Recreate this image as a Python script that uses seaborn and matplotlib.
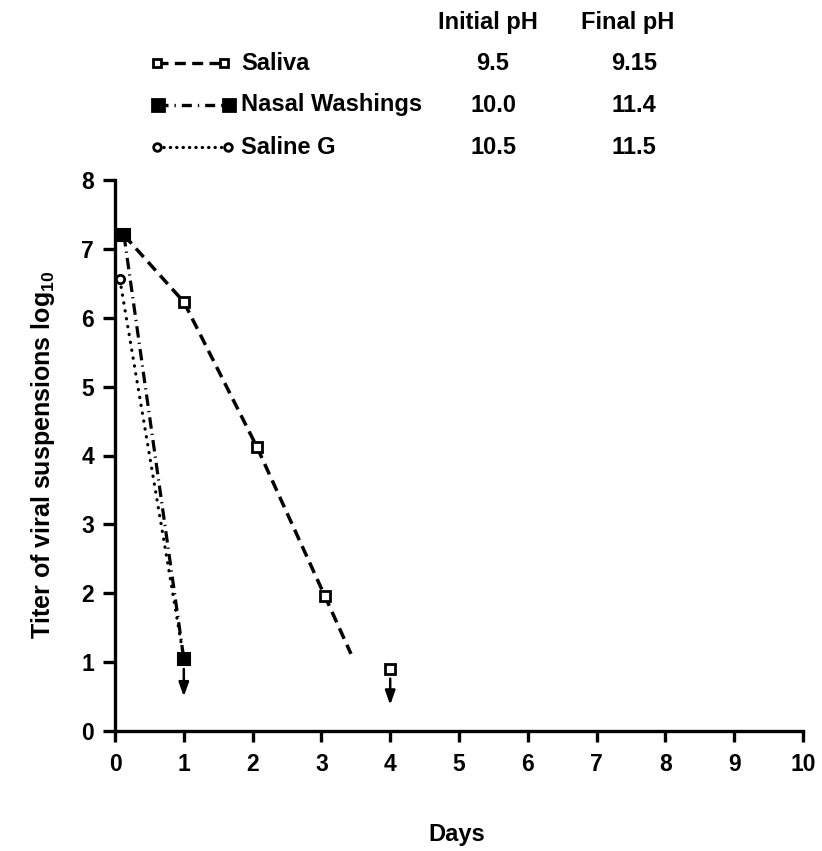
import matplotlib
matplotlib.use("Agg")
import matplotlib.pyplot as plt
import pandas as pd
import seaborn as sns

# Titer of viral suspensions (log10) against storage time in days
saliva_days = [0.13, 1.0, 2.06, 3.05, 4.0]
saliva_titer = [7.2, 6.23, 4.13, 1.96, 0.9]
saliva_curve_days = [0.13, 1.0, 2.06, 3.05, 3.43]
saliva_curve_titer = [7.2, 6.23, 4.13, 1.96, 1.12]

nasal_days = [0.13, 1.0]
nasal_titer = [7.2, 1.05]

saline_days = [0.07, 1.0]
saline_titer = [6.56, 1.05]

# values below detection limit (marker with a downward arrow)
limit_days = [1.0, 4.0]
limit_top = [0.9, 0.76]
limit_tip = [0.5, 0.38]

# key table
series_names = ["Saliva", "Nasal Washings", "Saline G"]
initial_ph = ["9.5", "10.0", "10.5"]
final_ph = ["9.15", "11.4", "11.5"]

x_ticks = list(range(0, 11))
y_ticks = list(range(0, 9))

sns.set_theme(style="white")
plt.rcParams["font.family"] = ["Liberation Sans", "DejaVu Sans"]
plt.rcParams["font.weight"] = "bold"
plt.rcParams["text.color"] = "black"
plt.rcParams["axes.labelcolor"] = "black"
plt.rcParams["xtick.color"] = "black"
plt.rcParams["ytick.color"] = "black"
plt.rcParams["mathtext.fontset"] = "custom"
plt.rcParams["mathtext.rm"] = "Liberation Sans:bold"
plt.rcParams["mathtext.bf"] = "Liberation Sans:bold"

W, H = 822, 851
fig = plt.figure(figsize=(W / 100, H / 100), dpi=100)
x0, x1 = 115, 803
y0, y1 = 731, 180
ax = fig.add_axes([x0 / W, (H - y0) / H, (x1 - x0) / W, (y0 - y1) / H])

LW = 2.5
saliva_ls = (0, (3.3, 1.9))
nasal_ls = (0, (3.6, 1.6, 0.4, 1.6))
saline_ls = (0, (0.1, 2.4))

sal_curve = pd.DataFrame({"day": saliva_curve_days, "titer": saliva_curve_titer})
sns.lineplot(data=sal_curve, x="day", y="titer", ax=ax, color="black",
             linewidth=LW, linestyle=saliva_ls, sort=False, errorbar=None,
             estimator=None)
sns.lineplot(x=nasal_days, y=nasal_titer, ax=ax, color="black", linewidth=2.3,
             linestyle=nasal_ls, sort=False, errorbar=None, estimator=None)
line = sns.lineplot(x=saline_days, y=saline_titer, ax=ax, color="black",
                    linewidth=2.3, sort=False, errorbar=None, estimator=None)
line.lines[-1].set_linestyle(saline_ls)
line.lines[-1].set_dash_capstyle("round")

# arrows marking titers below the detection limit
for d, top, tip in zip(limit_days, limit_top, limit_tip):
    ax.annotate("", xy=(d, tip), xytext=(d, top),
                arrowprops=dict(arrowstyle="-|>,head_length=0.7,head_width=0.25",
                                color="black", lw=1.8, shrinkA=0, shrinkB=0))

# markers
sns.lineplot(x=saline_days, y=saline_titer, ax=ax, linestyle="", marker="o",
             markersize=6, markerfacecolor="white", markeredgecolor="black",
             markeredgewidth=2.0, errorbar=None, estimator=None, sort=False)
sns.lineplot(x=saliva_days, y=saliva_titer, ax=ax, linestyle="", marker="s",
             markersize=7.5, markerfacecolor="white", markeredgecolor="black",
             markeredgewidth=2.0, errorbar=None, estimator=None, sort=False)
sns.lineplot(x=nasal_days, y=nasal_titer, ax=ax, linestyle="", marker="s",
             markersize=9, markerfacecolor="black", markeredgecolor="black",
             markeredgewidth=1.5, errorbar=None, estimator=None, sort=False)

ax.set_xlim(0, 10)
ax.set_ylim(0, 8)
ax.set_xticks(x_ticks)
ax.set_yticks(y_ticks)
ax.set_xticklabels([str(t) for t in x_ticks], fontsize=16.5, fontweight="bold")
ax.set_yticklabels([str(t) for t in y_ticks], fontsize=16.5, fontweight="bold")
ax.tick_params(axis="both", direction="out", width=2.4, colors="black",
               bottom=True, left=True)
ax.tick_params(axis="y", length=9, pad=6)
ax.tick_params(axis="x", length=8, pad=8)
for side in ["top", "right"]:
    ax.spines[side].set_visible(False)
for side in ["left", "bottom"]:
    ax.spines[side].set_linewidth(2.4)
    ax.spines[side].set_color("black")
ax.spines["left"].set_bounds(0, 8)
ax.spines["bottom"].set_bounds(0, 10)
ax.set_xlabel("")
ax.set_ylabel("")
for ln in ax.lines:
    ln.set_clip_on(False)

fig.text(457 / W, 1 - 835 / H, "Days", ha="center", va="center",
         fontsize=17, fontweight="bold")
fig.text(43 / W, 1 - 455 / H, r"Titer of viral suspensions log$_{10}$",
         ha="center", va="center", rotation=90, fontsize=18, fontweight="bold")

# key in pixel coordinates
key = fig.add_axes([0, 0, 1, 1], zorder=5)
key.set_xlim(0, W)
key.set_ylim(H, 0)
key.axis("off")
key.patch.set_alpha(0)

row_y = [63, 105, 147]
key.text(488, 22, "Initial pH", ha="center", va="center", fontsize=17, fontweight="bold")
key.text(628, 22, "Final pH", ha="center", va="center", fontsize=17, fontweight="bold")
sample_x = [[157, 224], [158, 229], [157, 228]]
sample_styles = [
    dict(ls=saliva_ls, marker="s", mfc="white", ms=6, lw=2.4),
    dict(ls=(0, (3.0, 1.8, 0.4, 1.8)), marker="s", mfc="black", ms=8.5, lw=2.4),
    dict(ls=(0, (0.1, 1.9)), marker="o", mfc="white", ms=5.5, lw=2.3),
]
for i, name in enumerate(series_names):
    st = sample_styles[i]
    ln, = key.plot(sample_x[i], [row_y[i], row_y[i]], color="black", lw=st["lw"],
                   linestyle=st["ls"], marker=st["marker"], ms=st["ms"],
                   mfc=st["mfc"], mec="black", mew=2.0)
    if i == 2:
        ln.set_dash_capstyle("round")
    key.text(241, row_y[i], name, ha="left", va="center",
             fontsize=17, fontweight="bold")
    key.text(493, row_y[i], initial_ph[i], ha="center", va="center",
             fontsize=17, fontweight="bold")
    key.text(634, row_y[i], final_ph[i], ha="center", va="center",
             fontsize=17, fontweight="bold")

fig.savefig("out.png", dpi=100, facecolor="white")
